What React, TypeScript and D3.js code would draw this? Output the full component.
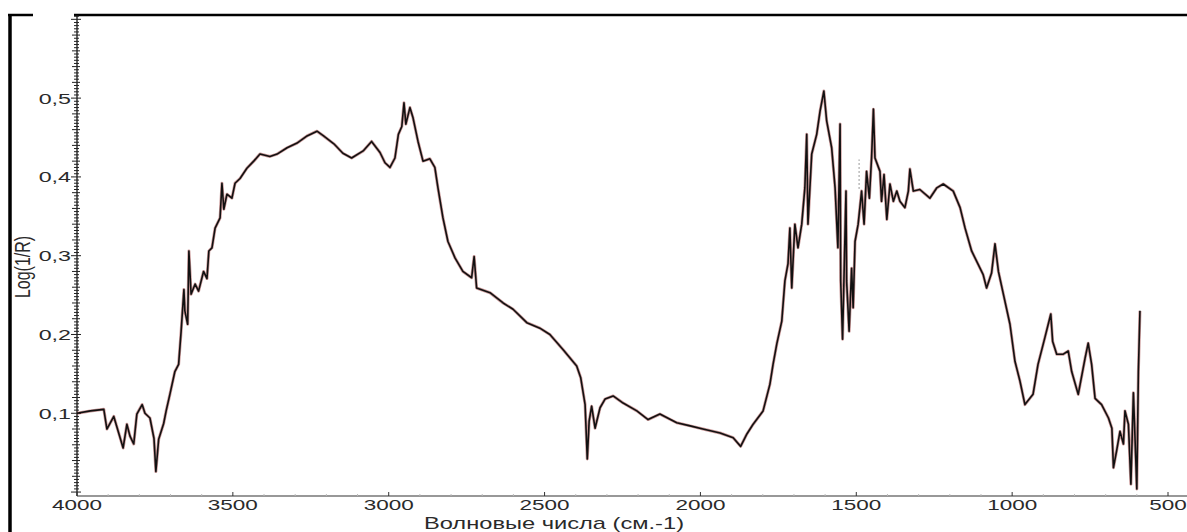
import * as d3 from 'd3';
import React, { useEffect, useRef } from 'react';

// spectrum (wavenumber cm-1 / Log(1/R))
const wavenumbers = [
  4000, 3957, 3914, 3904, 3882, 3852, 3840, 3830, 3818, 3808, 3791, 3782, 3766, 3753, 3747, 3738, 3722, 3714, 3702, 3686,
  3674, 3666, 3657, 3654, 3645, 3641, 3634, 3621, 3610, 3594, 3583, 3577, 3567, 3557, 3541, 3535, 3529, 3519, 3503, 3493,
  3477, 3455, 3433, 3413, 3381, 3358, 3326, 3294, 3262, 3230, 3209, 3176,
  3147, 3119, 3082, 3055, 3028, 3012, 2996, 2980, 2969, 2958, 2951, 2945, 2932, 2922, 2906, 2890, 2868, 2852, 2842, 2826,
  2810, 2787, 2762, 2734, 2726, 2718, 2675, 2633, 2601, 2557, 2515, 2483, 2441, 2397, 2384, 2370, 2363, 2357, 2349, 2338,
  2322, 2306, 2280, 2248, 2204, 2168, 2130, 2076, 2033, 1992, 1937, 1895, 1871, 1852,
  1831, 1799, 1777, 1767, 1755, 1739, 1729, 1719, 1713, 1707, 1697, 1687, 1675, 1665, 1659, 1655, 1643, 1627, 1616, 1604,
  1595, 1579, 1568, 1559, 1552, 1550, 1544, 1533, 1531, 1523, 1515, 1510, 1504, 1494, 1483, 1475, 1467, 1458, 1451, 1445,
  1440, 1424, 1419, 1411, 1402, 1392, 1381, 1370, 1360, 1344, 1333, 1328, 1317, 1296, 1264, 1242, 1221, 1189, 1167, 1151,
  1130, 1109, 1093, 1082, 1066, 1055, 1044, 1028, 1007, 991, 975,
  959, 933, 917, 895, 876, 870, 857, 836, 820, 809, 788, 766, 756, 745, 734, 713, 691, 680, 675, 665,
  654, 643, 638, 627, 619, 611, 600, 595, 590,
];

const logR = [
  0.100, 0.103, 0.105, 0.080, 0.096, 0.056, 0.086, 0.071, 0.061, 0.099, 0.111, 0.100, 0.094, 0.068, 0.026, 0.067, 0.087, 0.103, 0.124, 0.153,
  0.162, 0.204, 0.257, 0.230, 0.213, 0.306, 0.251, 0.264, 0.255, 0.280, 0.271, 0.306, 0.310, 0.335, 0.348, 0.392, 0.359, 0.378, 0.373, 0.392,
  0.398, 0.411, 0.420, 0.429, 0.426, 0.429, 0.437, 0.443, 0.452, 0.458, 0.452, 0.442,
  0.430, 0.424, 0.433, 0.445, 0.431, 0.418, 0.412, 0.424, 0.454, 0.464, 0.494, 0.467, 0.488, 0.475, 0.445, 0.420, 0.423, 0.412, 0.386, 0.348,
  0.318, 0.297, 0.280, 0.272, 0.299, 0.259, 0.253, 0.240, 0.232, 0.215, 0.208, 0.200, 0.181, 0.160, 0.145, 0.111, 0.042, 0.090, 0.109, 0.081,
  0.107, 0.118, 0.122, 0.113, 0.103, 0.092, 0.099, 0.088, 0.084, 0.080, 0.075, 0.069, 0.058, 0.073,
  0.086, 0.103, 0.137, 0.162, 0.188, 0.217, 0.268, 0.290, 0.335, 0.259, 0.340, 0.310, 0.340, 0.386, 0.454, 0.340, 0.429, 0.454, 0.484, 0.509,
  0.471, 0.437, 0.386, 0.310, 0.467, 0.268, 0.194, 0.382, 0.268, 0.204, 0.284, 0.234, 0.318, 0.340, 0.382, 0.340, 0.407, 0.373, 0.424, 0.486,
  0.424, 0.407, 0.369, 0.403, 0.346, 0.391, 0.369, 0.382, 0.369, 0.361, 0.382, 0.410, 0.382, 0.384, 0.373, 0.386, 0.391, 0.382, 0.361, 0.335,
  0.306, 0.289, 0.276, 0.259, 0.278, 0.315, 0.280, 0.251, 0.213, 0.166, 0.141,
  0.111, 0.124, 0.162, 0.196, 0.226, 0.191, 0.175, 0.175, 0.179, 0.153, 0.124, 0.170, 0.189, 0.162, 0.119, 0.111, 0.094, 0.081, 0.031, 0.052,
  0.077, 0.061, 0.103, 0.086, 0.010, 0.126, 0.004, 0.153, 0.230,
];

const xTicks = [4000, 3500, 3000, 2500, 2000, 1500, 1000, 500];
const yTicks = [0.1, 0.2, 0.3, 0.4, 0.5];
const yTickLabels = ['0,1', '0,2', '0,3', '0,4', '0,5'];
const xTitle = 'Волновые числа (см.-1)';
const yTitle = 'Log(1/R)';
// small dotted mark near 1490
const markWn = 1491;
const markRange = [0.385, 0.422];

const W = 1187, H = 532;
const left = 77, top = 15, bottom = 496, xEnd = 1168;

const App = () => {
  const ref = useRef<SVGSVGElement>(null);

  useEffect(() => {
    document.body.style.margin = '0';
    const svg = d3.select(ref.current);
    svg.selectAll('*').remove();

    const x = d3.scaleLinear().domain([4000, 500]).range([left, xEnd]);
    const y = d3.scaleLinear().domain([-0.005, 0.6055]).range([bottom, top]);
    const font = 'Arial, "Liberation Sans", sans-serif';

    svg.append('rect').attr('width', W).attr('height', H).attr('fill', '#fff');

    // frame bits
    svg.append('line').attr('x1', 10).attr('x2', 10).attr('y1', 14).attr('y2', H)
      .attr('stroke', '#000').attr('stroke-width', 3.5);
    svg.append('line').attr('x1', 8).attr('x2', 33).attr('y1', 15).attr('y2', 15)
      .attr('stroke', '#000').attr('stroke-width', 2.5);
    svg.append('line').attr('x1', 74).attr('x2', W).attr('y1', 15).attr('y2', 15)
      .attr('stroke', '#000').attr('stroke-width', 2.5);

    // y axis with dense ticks
    const ya = svg.append('g');
    ya.append('line').attr('x1', left).attr('x2', left).attr('y1', top).attr('y2', bottom)
      .attr('stroke', '#111').attr('stroke-width', 1.3);
    d3.range(0, 152).forEach(i => {
      const v = i * 0.004;
      const yy = y(v);
      if (yy < top + 1) return;
      const major = i % 25 === 0, mid = i % 5 === 0;
      ya.append('line')
        .attr('x1', left - (major ? 6 : mid ? 5 : 3)).attr('x2', left + (major ? 4 : mid ? 3 : 2))
        .attr('y1', yy).attr('y2', yy)
        .attr('stroke', '#222').attr('stroke-width', 1);
    });
    yTicks.forEach((v, i) => {
      ya.append('text')
        .attr('transform', `translate(71,${y(v) + 5.5}) scale(1.5,1)`)
        .attr('text-anchor', 'end')
        .attr('font-family', font).attr('font-size', 15.5).attr('fill', '#2a2a2a')
        .text(yTickLabels[i]);
    });
    svg.append('text')
      .attr('transform', `translate(30,267) rotate(-90) scale(1,1.4)`)
      .attr('text-anchor', 'middle')
      .attr('font-family', font).attr('font-size', 16).attr('fill', '#2a2a2a')
      .text(yTitle);

    // x axis
    const xa = svg.append('g');
    xa.append('line').attr('x1', left).attr('x2', W).attr('y1', bottom).attr('y2', bottom)
      .attr('stroke', '#333').attr('stroke-width', 1.2);
    d3.range(4000, 400, -100).forEach(v => {
      const major = v % 500 === 0;
      xa.append('line').attr('x1', x(v)).attr('x2', x(v))
        .attr('y1', bottom).attr('y2', bottom - (major ? 4 : 2))
        .attr('stroke', major ? '#333' : '#bbb').attr('stroke-width', 1);
    });
    xTicks.forEach(v => {
      xa.append('text')
        .attr('transform', `translate(${x(v)},509.5) scale(1.5,1)`)
        .attr('text-anchor', 'middle')
        .attr('font-family', font).attr('font-size', 15).attr('fill', '#2a2a2a')
        .text(v);
    });
    svg.append('text')
      .attr('transform', `translate(554,528.5) scale(1.48,1)`)
      .attr('text-anchor', 'middle')
      .attr('font-family', font).attr('font-size', 16).attr('fill', '#2a2a2a')
      .text(xTitle);

    // spectrum
    const pts = wavenumbers.map((w, i) => [w, logR[i]] as [number, number]);
    const line = d3.line<[number, number]>().x(d => x(d[0])).y(d => y(d[1]));
    svg.append('path').datum(pts).attr('d', line)
      .attr('fill', 'none').attr('stroke', '#8a1c1c').attr('stroke-width', 3)
      .attr('stroke-opacity', 0.45).attr('stroke-linejoin', 'round');
    svg.append('path').datum(pts).attr('d', line)
      .attr('fill', 'none').attr('stroke', '#111').attr('stroke-width', 1.6)
      .attr('stroke-linejoin', 'round');

    svg.append('line')
      .attr('x1', x(markWn)).attr('x2', x(markWn))
      .attr('y1', y(markRange[0])).attr('y2', y(markRange[1]))
      .attr('stroke', '#777').attr('stroke-width', 1).attr('stroke-dasharray', '1.5,2.5');
  }, []);

  return (
    <div style={{ position: 'absolute', left: 0, top: 0 }}>
      <svg ref={ref} width={W} height={H} style={{ display: 'block' }} />
    </div>
  );
};

export default App;
